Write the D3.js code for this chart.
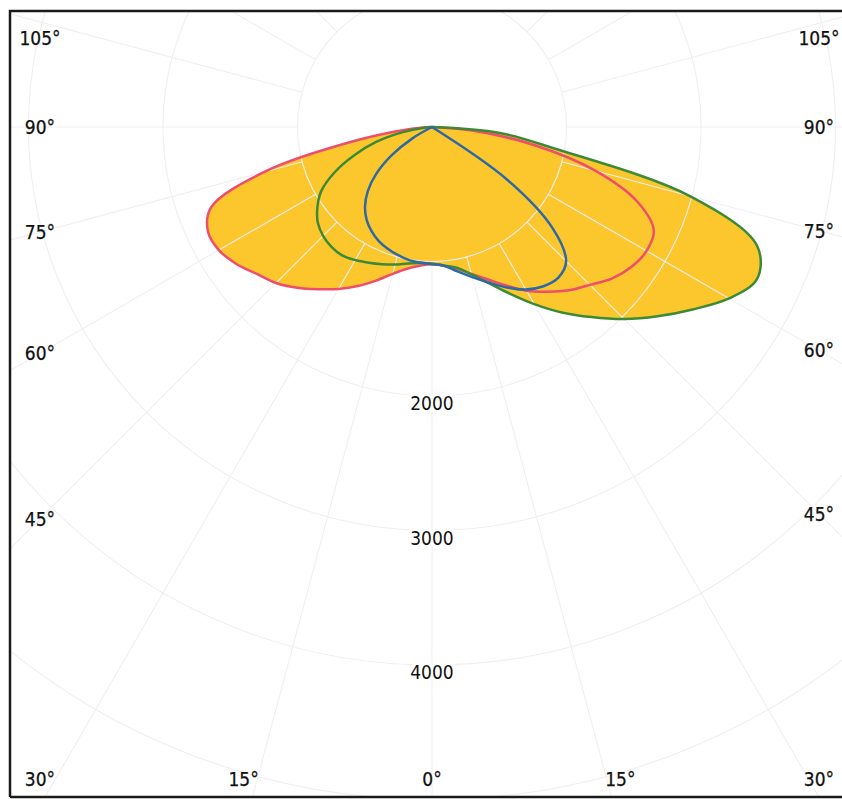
<!DOCTYPE html>
<html><head><meta charset="utf-8">
<script src="https://cdn.jsdelivr.net/npm/d3@7"></script>
<style>html,body{margin:0;padding:0;background:#fff;} svg{display:block;}</style>
</head><body>
<svg id="chart" width="842" height="799"></svg>
<script>
// Angles (degrees from nadir, negative = left) and luminous intensity values (cd)
const angles = [-90,-85,-80,-75,-70,-65,-60,-55,-50,-45,-40,-35,-30,-25,-20,-15,-10,-5,0,5,10,15,20,25,30,35,40,45,50,55,60,65,70,75,80,85,90];
const redValues = [0,150,560,1290,1748,1838,1830,1775,1700,1640,1560,1472,1390,1305,1215,1130,1070,1035,1020,1035,1070,1130,1205,1300,1405,1495,1585,1660,1750,1812,1842,1820,1625,1260,770,300,0];
const greenValues = [0,60,220,430,615,800,950,1040,1108,1145,1163,1165,1142,1113,1085,1058,1030,1015,1015,1035,1062,1135,1235,1366,1520,1683,1845,2020,2190,2365,2550,2668,2570,1985,930,506,0];
const blueValues = [0,0,0,0,0,0,165,365,540,675,775,846,897,936,963,985,1003,1012,1020,1035,1090,1155,1230,1316,1395,1445,1462,1410,1170,680,0,0,0,0,0,0,0];
const ringValues = [1000,2000,3000,4000,5000];
const ringLabels = [2000,3000,4000];
const spokeAngles = d3.range(0,360,15);
const angleLabels = [-105,-90,-75,-60,-45,-30,-15,0,15,30,45,60,75,90,105];

const W = 842, H = 799, cx = 432, cy = 127;
const frame = {x0:10, y0:11, x1:842, y1:797};
const r = d3.scaleLinear().domain([0,5000]).range([0,672.5]);
const toRad = a => Math.PI - a*Math.PI/180;

const svg = d3.select("#chart");
svg.append("rect").attr("width",W).attr("height",H).attr("fill","#fff");
svg.append("defs").append("clipPath").attr("id","clip")
  .append("rect").attr("x",frame.x0).attr("y",frame.y0)
  .attr("width",frame.x1-frame.x0).attr("height",frame.y1-frame.y0);

const g = svg.append("g").attr("clip-path","url(#clip)");
const c = g.append("g").attr("transform",`translate(${cx},${cy})`);

const series = [
  {name:"red", values:redValues, color:"#ee4d6c"},
  {name:"green", values:greenValues, color:"#3c8a36"},
  {name:"blue", values:blueValues, color:"#2c69a5"}
];
const line = d3.lineRadial()
  .angle(d=>toRad(d.a)).radius(d=>r(d.v))
  .curve(d3.curveCatmullRom.alpha(0.5));
series.forEach(s => s.data = angles.map((a,i)=>({a, v:s.values[i]})));

// yellow fill (red & green envelopes)
series.filter(s=>s.name!=="blue").forEach(s=>{
  c.append("path").attr("d", line(s.data)+"Z").attr("fill","#fcc72c").attr("stroke","none");
});

// grid
const gridColor = "#f1eef2";
c.selectAll("circle.ring").data(ringValues).join("circle")
  .attr("r", d=>r(d)).attr("fill","none").attr("stroke",gridColor).attr("stroke-width",1.1);
c.selectAll("line.spoke").data(spokeAngles).join("line")
  .attr("x1", d=>r(1000)*Math.sin(d*Math.PI/180)).attr("y1", d=>r(1000)*Math.cos(d*Math.PI/180))
  .attr("x2", d=>r(9000)*Math.sin(d*Math.PI/180)).attr("y2", d=>r(9000)*Math.cos(d*Math.PI/180))
  .attr("stroke",gridColor).attr("stroke-width",1.1);

// curves
series.forEach(s=>{
  c.append("path").attr("d", line(s.data)).attr("fill","none")
    .attr("stroke", s.color).attr("stroke-width",2.5).attr("stroke-linejoin","round");
});

const font = "'DejaVu Sans Condensed','DejaVu Sans',sans-serif";
// ring labels
c.selectAll("text.ring").data(ringLabels).join("text")
  .attr("x",0).attr("y",d=>r(d)+7)
  .attr("text-anchor","middle").attr("dominant-baseline","central")
  .attr("font-family",font).attr("font-stretch","condensed").attr("font-size",19)
  .attr("fill","#111").attr("stroke","#fff").attr("stroke-width",6).attr("paint-order","stroke")
  .text(d=>d);

// angle labels: ray from centre to inset box
const box = {x0:40, x1:819, y1:830, yMin:38, yMax:779};
function labelPos(a){
  const t = a*Math.PI/180, dx = Math.sin(t), dy = Math.cos(t);
  let s = Infinity;
  if (dx < -1e-9) s = Math.min(s, (box.x0-cx)/dx);
  if (dx > 1e-9) s = Math.min(s, (box.x1-cx)/dx);
  if (dy > 1e-9) s = Math.min(s, (box.y1-cy)/dy);
  const x = cx + s*dx, y = Math.max(box.yMin, Math.min(box.yMax, cy + s*dy));
  return [x,y];
}
svg.selectAll("text.ang").data(angleLabels).join("text")
  .attr("x", d=>labelPos(d)[0]).attr("y", d=>labelPos(d)[1])
  .attr("text-anchor","middle").attr("dominant-baseline","central")
  .attr("font-family",font).attr("font-stretch","condensed").attr("font-size",19)
  .attr("fill","#111").attr("stroke","#111").attr("stroke-width",0.25)
  .text(d=>Math.abs(d)+"°");

// frame
svg.append("path")
  .attr("d",`M${frame.x0},${frame.y1}V${frame.y0}H${W}`)
  .attr("fill","none").attr("stroke","#1a1a1a").attr("stroke-width",2.5);
svg.append("path")
  .attr("d",`M${frame.x0},${frame.y1}H${W}`)
  .attr("fill","none").attr("stroke","#1a1a1a").attr("stroke-width",2.5);
</script>
</body></html>
